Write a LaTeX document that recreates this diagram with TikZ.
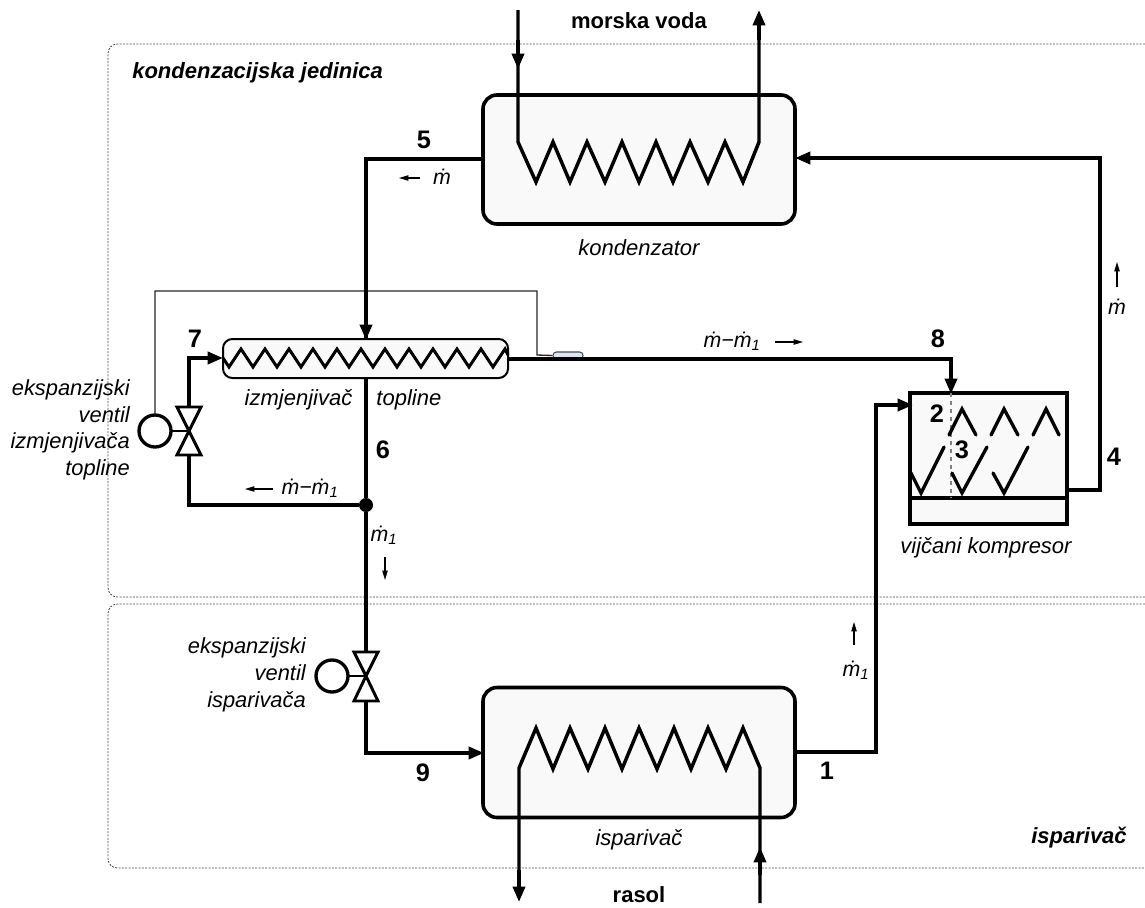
\documentclass[tikz,border=0pt]{standalone}
\usepackage{fontspec}
\setmainfont{Liberation Sans}
\usetikzlibrary{arrows.meta}
\newcommand{\mdot}{\.{m}}
\newcommand{\mone}{\.{m}\textsubscript{1}}
\tikzset{
  pipe/.style={line width=2.7pt,draw=black,line join=miter},
  pipearrow/.style={pipe,-{Triangle[length=11.5pt,width=9pt]},shorten >=0pt},
  coil/.style={line width=2.5pt,draw=black,line join=miter},
  thincoil/.style={line width=2.2pt,draw=black,line join=miter},
  vessel/.style 2 args={draw=black,line width=2.7pt,fill=boxfill,rounded corners=10.5pt,minimum width=#1*0.75pt,minimum height=#2*0.75pt,inner sep=0pt,outer sep=0pt},
  hxbox/.style 2 args={draw=black,line width=1.5pt,fill=boxfill,rounded corners=7pt,minimum width=#1*0.75pt,minimum height=#2*0.75pt,inner sep=0pt,outer sep=0pt},
  compbox/.style 2 args={draw=black,line width=2.7pt,fill=boxfill,minimum width=#1*0.75pt,minimum height=#2*0.75pt,inner sep=0pt,outer sep=0pt},
  region/.style={draw=black!70,line width=0.6pt,rounded corners=7pt,dash pattern=on 1.5pt off 1pt},
  valveline/.style={line width=2.2pt,draw=black,line join=miter,fill=white},
  valvestem/.style={line width=2.2pt,draw=black},
  actuator/.style={circle,draw=black,line width=2.5pt,fill=white,minimum size=32*0.75pt,inner sep=0pt,outer sep=0pt},
  bulbline/.style={line width=1pt,draw=black!85},
  flow/.style={line width=0.8pt,draw=black,-{Triangle[length=7pt,width=4pt]}},
  lab/.style={font=\fontsize{16.5}{20}\selectfont\itshape,inner sep=0pt},
  flowlab/.style={font=\fontsize{16}{18}\selectfont\itshape,inner sep=0pt},
  num/.style={font=\fontsize{19}{20}\selectfont\bfseries,inner sep=0pt},
  head/.style={font=\fontsize{16.5}{20}\selectfont\bfseries,inner sep=0pt},
  zone/.style={font=\fontsize{16.5}{20}\selectfont\bfseries\itshape,inner sep=0pt},
  multi/.style={font=\fontsize{16.4}{20}\selectfont\itshape,inner sep=0pt,align=right,anchor=east},
}
\definecolor{boxfill}{HTML}{F9F9F9}
\definecolor{bulbfill}{HTML}{DCE6F2}
\begin{document}
\begin{tikzpicture}[x=0.75pt,y=-0.75pt]
\useasboundingbox (0,0) rectangle (1145,907);
% zones
\draw[region] (1145,44) -- (108,44) -- (108,597) -- (1145,597);
\draw[region] (1145,604) -- (108,604) -- (108,868) -- (1145,868);
% vessels
\node[vessel={312}{129}] (kond) at (639,159.5) {};
\node[vessel={312}{130}] (ispar) at (639,752.5) {};
\node[hxbox={285}{39}] (izmj) at (365.5,358.5) {};
\node[compbox={157}{131}] (komp) at (988.5,458.5) {};
\draw[line width=2.7pt] (komp.west |- 0,498) -- (komp.east |- 0,498);
% junction and valves
\node[circle,fill=black,minimum size=14*0.75pt,inner sep=0pt] (spoj) at (366,505) {};
\node[actuator] (osj1) at (155,431) {};
\node[actuator] (osj2) at (332,676) {};
\coordinate (v1) at (189,431);
\coordinate (v1t) at (189,407);
\coordinate (v1b) at (189,455);
\coordinate (v2) at (366,676);
\coordinate (v2t) at (366,652);
\coordinate (v2b) at (366,701);
% thin sensing line and bulb
\node[draw=black!70,line width=0.8pt,fill=bulbfill,rounded corners=2.5pt,minimum width=30*0.75pt,minimum height=7*0.75pt,inner sep=0pt] (bulb) at (568,355.5) {};
\coordinate (s1) at (155,291);
\coordinate (s2) at (537,291);
\coordinate (s3) at (537,355);
\draw[bulbline] (osj1) -- (s1) -- (s2) -- (s3) -- (bulb.west);
% main pipes
\coordinate (p5a) at (366,159);
\draw[pipe] (kond.west |- p5a) -- (p5a) -- (izmj.north -| p5a);
\draw[pipearrow] (366,300) -- (366,340);
\coordinate (p4a) at (1100,490);
\coordinate (p4b) at (1100,158);
\draw[pipe,-{Triangle[length=11.5pt,width=9pt]}] (komp.east |- p4a) -- (p4a) -- (p4b) -- (kond.east |- p4b);
\coordinate (p8a) at (951,359);
\draw[pipe] (izmj.east |- p8a) -- (p8a) -- (951,385);
\draw[pipearrow] (951,370) -- (951,394);
\coordinate (p1a) at (876,752);
\coordinate (p1b) at (876,405);
\draw[pipe] (ispar.east |- p1a) -- (p1a) -- (p1b) -- (900,405);
\draw[pipearrow] (890,405) -- (913,405);
\coordinate (p7a) at (189,358);
\draw[pipe] (v1t) -- (p7a) -- (210,358);
\draw[pipearrow] (200,358) -- (223,358);
\coordinate (p6a) at (189,505);
\draw[pipe] (v1b) -- (p6a) -- (spoj);
\draw[pipe] (izmj.south -| spoj) -- (spoj) -- (v2t);
\coordinate (p9a) at (366,753);
\draw[pipe] (v2b) -- (p9a) -- (470,753);
\draw[pipearrow] (460,753) -- (484,753);
% valve bodies
\draw[valveline] (v1) -- (177,407) -- (201,407) -- cycle;
\draw[valveline] (v1) -- (177,455) -- (201,455) -- cycle;
\draw[valvestem] (osj1) -- (v1);
\draw[valveline] (v2) -- (354,652) -- (378,652) -- cycle;
\draw[valveline] (v2) -- (354,701) -- (378,701) -- cycle;
\draw[valvestem] (osj2) -- (v2);
% condenser coil and sea water
\draw[coil,line width=2.6pt] (518,10) -- (518,142) -- (536,182) -- (553,142) -- (570,182) -- (587,142) -- (605,182) -- (622,142) -- (639,182) -- (656,142) -- (673,182) -- (690,142) -- (708,182) -- (725,142) -- (743,182) -- (759,142) -- (759,27);
\draw[pipearrow,line width=2.6pt] (518,40) -- (518,69);
\draw[pipearrow,line width=2.6pt] (759,40) -- (759,10);
% evaporator coil and brine
\draw[coil,line width=2.6pt] (519,885) -- (519,768) -- (536,728) -- (553,769) -- (570,728) -- (588,769) -- (605,728) -- (622,769) -- (639,728) -- (657,769) -- (674,728) -- (691,769) -- (708,728) -- (726,769) -- (743,728) -- (760,768) -- (760,903);
\draw[pipearrow,line width=2.6pt] (519,870) -- (519,902);
\draw[pipearrow,line width=2.6pt] (760,875) -- (760,847);
% heat exchanger coil
\draw[thincoil] (223,358) -- (229,367) -- (241,349) -- (253,367) -- (265,349) -- (277,367) -- (289,349) -- (301,367) -- (313,349) -- (325,367) -- (337,349) -- (349,367) -- (361,349) -- (373,367) -- (385,349) -- (397,367) -- (409,349) -- (421,367) -- (433,349) -- (445,367) -- (457,349) -- (469,367) -- (481,349) -- (493,367) -- (505,349) -- (508,355);
% compressor internals
\draw[black!50,line width=0.8pt,dashed] (951,393) -- (951,498);
\draw[coil,line cap=round] (949,435) -- (962,409) -- (976,435);
\draw[coil,line cap=round] (991,435) -- (1004,409) -- (1018,435);
\draw[coil,line cap=round] (1033,435) -- (1046,409) -- (1059,435);
\draw[coil,line cap=round] (911,473) -- (921,493) -- (944,447);
\draw[coil,line cap=round] (952,473) -- (962,493) -- (987,447);
\draw[coil,line cap=round] (993,473) -- (1004,493) -- (1028,447);
% flow arrows
\coordinate (f1a) at (420,178); \coordinate (f1b) at (399,178);
\draw[flow] (f1a) -- (f1b);
\coordinate (f2a) at (1117,287); \coordinate (f2b) at (1117,262);
\draw[flow] (f2a) -- (f2b);
\coordinate (f3a) at (775,342); \coordinate (f3b) at (803,342);
\draw[flow] (f3a) -- (f3b);
\coordinate (f4a) at (273,489); \coordinate (f4b) at (245,489);
\draw[flow] (f4a) -- (f4b);
\coordinate (f5a) at (385,557); \coordinate (f5b) at (385,580);
\draw[flow] (f5a) -- (f5b);
\coordinate (f6a) at (854,645); \coordinate (f6b) at (854,622);
\draw[flow] (f6a) -- (f6b);
% flow labels
\node[flowlab] (t1) at (442,177) {\mdot};
\node[flowlab] (t2) at (1117,307) {\mdot};
\node[flowlab] (t3) at (732,341) {\mdot−\mone};
\node[flowlab] (t4) at (310,488) {\mdot−\mone};
\node[flowlab] (t5) at (384,535) {\mone};
\node[flowlab] (t6) at (856,670) {\mone};
% numbers
\node[num] (n1) at (827,771) {1};
\node[num] (n2) at (937,414) {2};
\node[num] (n3) at (962,450) {3};
\node[num] (n4) at (1114,457) {4};
\node[num] (n5) at (424,140) {5};
\node[num] (n6) at (383,450) {6};
\node[num] (n7) at (195,339) {7};
\node[num] (n8) at (938,339) {8};
\node[num] (n9) at (423,773) {9};
% names
\node[head] (more) at (639,21) {morska voda};
\node[head] (rasol) at (639,895) {rasol};
\node[zone,anchor=west] (z1) at (132,73) {kondenzacijska jedinica};
\node[zone] (z2) at (1079,838) {isparivač};
\node[lab] (l1) at (639,248) {kondenzator};
\node[lab] (l2) at (343,400) {izmjenjivač\hspace{1.1em}topline};
\node[lab] (l3) at (986,548) {vijčani kompresor};
\node[lab] (l4) at (639,840) {isparivač};
\node[multi] (l5) at (130,430) {ekspanzijski\\ventil\\izmjenjivača\\topline};
\node[multi] (l6) at (306,675) {ekspanzijski\\ventil\\isparivača};
\end{tikzpicture}
\end{document}
